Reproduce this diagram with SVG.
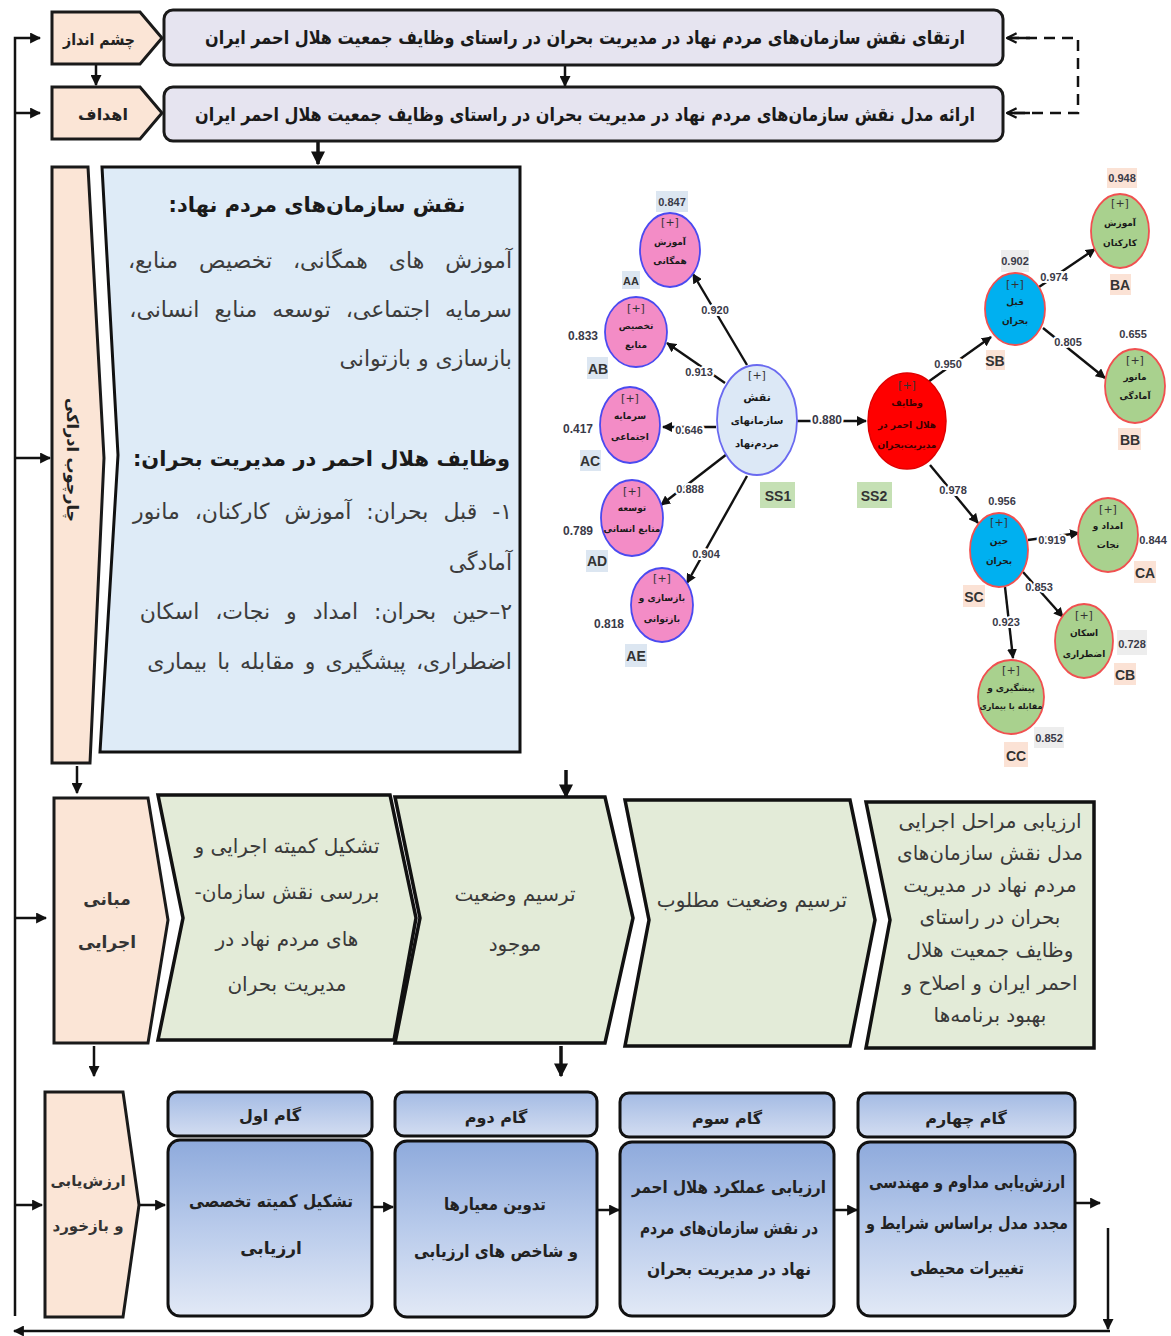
<svg xmlns="http://www.w3.org/2000/svg" width="1171" height="1336" viewBox="0 0 1171 1336">
<defs>
<style>
.ar{font-family:"DejaVu Sans",sans-serif;direction:rtl;}
.b{font-weight:bold;}
.lav{fill:#e6e4f0;stroke:#1a1a1a;stroke-width:3;}
.peach{fill:#fbe5d6;stroke:#1a1a1a;stroke-width:3;}
.grn{fill:#e3ebd8;stroke:#111;stroke-width:3.5;stroke-linejoin:miter;}
.panel{fill:#deebf7;stroke:#111;stroke-width:3;}
.hdr{fill:url(#gh);stroke:#111;stroke-width:3;}
.body{fill:url(#gb);stroke:#111;stroke-width:3;}
.ln{stroke:#111;stroke-width:2.5;fill:none;}
.thk{stroke:#111;stroke-width:3.5;fill:none;}
.ml{stroke:#111;stroke-width:2.4;fill:none;}
.num{font-family:"Liberation Sans",sans-serif;font-weight:bold;font-size:11px;fill:#3a3a48;text-anchor:middle;}
.halo{stroke:#fff;stroke-width:4;paint-order:stroke;}
.lab{font-family:"Liberation Sans",sans-serif;font-weight:bold;font-size:14px;fill:#333;text-anchor:middle;}
.nt{font-family:"DejaVu Sans",sans-serif;font-weight:bold;font-size:9px;fill:#1a1a1a;text-anchor:middle;direction:rtl;}
.pl{font-family:"DejaVu Sans",sans-serif;font-size:11px;fill:#333;text-anchor:middle;}
.pink{fill:#f38cc6;stroke:#4a4af0;stroke-width:1.8;}
.gnode{fill:#a9d18e;stroke:#f05050;stroke-width:1.8;}
.bnode{fill:#00b0f0;stroke:#f05050;stroke-width:1.8;}
.lb{fill:#dce6f1;}
.lp{fill:#fbe2d5;}
.lg{fill:#c5e0b4;}
.lgr{fill:#ededed;}
.pt{font-size:22px;fill:#3c3c3c;}
.gt{font-size:20px;fill:#3a3a3a;}
.st{font-size:17px;fill:#222;font-weight:bold;text-anchor:middle;}
</style>
<linearGradient id="gh" x1="0" y1="0" x2="0" y2="1"><stop offset="0" stop-color="#a4bbe4"/><stop offset="1" stop-color="#d3ddf1"/></linearGradient>
<linearGradient id="gb" x1="0" y1="0" x2="0" y2="1"><stop offset="0" stop-color="#8eaadc"/><stop offset="0.5" stop-color="#b9cbeb"/><stop offset="1" stop-color="#e2e9f6"/></linearGradient>
<marker id="ah" viewBox="0 0 10 10" refX="9" refY="5" markerWidth="11" markerHeight="11" markerUnits="userSpaceOnUse" orient="auto"><path d="M0,0 L10,5 L0,10 z" fill="#111"/></marker>
<marker id="ahb" viewBox="0 0 10 10" refX="9" refY="5" markerWidth="14" markerHeight="14" markerUnits="userSpaceOnUse" orient="auto"><path d="M0,0 L10,5 L0,10 z" fill="#111"/></marker>
<marker id="ahs" viewBox="0 0 10 10" refX="9" refY="5" markerWidth="10" markerHeight="10" markerUnits="userSpaceOnUse" orient="auto"><path d="M0,0 L10,5 L0,10 z" fill="#111"/></marker>
<marker id="aho" viewBox="0 0 10 10" refX="9" refY="5" markerWidth="12" markerHeight="12" markerUnits="userSpaceOnUse" orient="auto"><path d="M1,1 L9,5 L1,9" fill="none" stroke="#111" stroke-width="2"/></marker>
</defs>
<rect width="1171" height="1336" fill="#fff"/>

<!-- connectors -->
<g id="connectors">
<polyline class="ln" points="15,1316 15,38 40,38" marker-end="url(#ah)"/>
<line class="ln" x1="15" y1="113" x2="40" y2="113" marker-end="url(#ah)"/>
<line class="ln" x1="15" y1="458" x2="50" y2="458" marker-end="url(#ah)"/>
<line class="ln" x1="15" y1="918" x2="46" y2="918" marker-end="url(#ah)"/>
<line class="ln" x1="15" y1="1205" x2="42" y2="1205" marker-end="url(#ah)"/>
<line class="ln" x1="96" y1="64" x2="96" y2="85" marker-end="url(#ah)"/>
<line class="ln" x1="565" y1="65" x2="565" y2="86" marker-end="url(#ah)"/>
<line class="thk" x1="318" y1="141" x2="318" y2="164" marker-end="url(#ahb)"/>
<polyline fill="none" stroke="#111" stroke-width="2.5" stroke-dasharray="11,7" points="1008,38 1078,38 1078,113 1008,113"/>
<line class="ln" x1="1030" y1="38" x2="1007" y2="38" marker-end="url(#aho)"/>
<line class="ln" x1="1030" y1="113" x2="1007" y2="113" marker-end="url(#aho)"/>
<line class="ln" x1="77" y1="766" x2="77" y2="793" marker-end="url(#ah)"/>
<line class="thk" x1="566" y1="770" x2="566" y2="797" marker-end="url(#ahb)"/>
<line class="ln" x1="94" y1="1046" x2="94" y2="1076" marker-end="url(#ah)"/>
<line class="thk" x1="561" y1="1046" x2="561" y2="1076" marker-end="url(#ahb)"/>
<line class="ln" x1="139" y1="1205" x2="165" y2="1205" marker-end="url(#ah)"/>
<line class="ln" x1="372" y1="1207" x2="393" y2="1207" marker-end="url(#ah)"/>
<line class="ln" x1="597" y1="1210" x2="619" y2="1210" marker-end="url(#ah)"/>
<line class="ln" x1="834" y1="1210" x2="857" y2="1210" marker-end="url(#ah)"/>
<line class="ln" x1="1075" y1="1203" x2="1100" y2="1203" marker-end="url(#ah)"/>
<line class="ln" x1="1108" y1="1228" x2="1108" y2="1329" marker-end="url(#ah)"/>
<line class="ln" x1="1110" y1="1331" x2="14" y2="1331" marker-end="url(#ah)"/>
<!-- model paths -->
<line class="ml" x1="747" y1="365" x2="693" y2="274" marker-end="url(#ahs)"/>
<line class="ml" x1="725" y1="383" x2="667" y2="343" marker-end="url(#ahs)"/>
<line class="ml" x1="716" y1="427" x2="663" y2="427" marker-end="url(#ahs)"/>
<line class="ml" x1="727" y1="454" x2="661" y2="505" marker-end="url(#ahs)"/>
<line class="ml" x1="747" y1="476" x2="687" y2="583" marker-end="url(#ahs)"/>
<line class="ml" x1="797" y1="421" x2="866" y2="421" marker-end="url(#ahs)"/>
<line class="ml" x1="928" y1="382" x2="991" y2="337" marker-end="url(#ahs)"/>
<line class="ml" x1="1039" y1="287" x2="1095" y2="249" marker-end="url(#ahs)"/>
<line class="ml" x1="1043" y1="328" x2="1105" y2="378" marker-end="url(#ahs)"/>
<line class="ml" x1="930" y1="465" x2="978" y2="523" marker-end="url(#ahs)"/>
<line class="ml" x1="1028" y1="540" x2="1079" y2="533" marker-end="url(#ahs)"/>
<line class="ml" x1="1023" y1="572" x2="1063" y2="617" marker-end="url(#ahs)"/>
<line class="ml" x1="1005" y1="587" x2="1013" y2="658" marker-end="url(#ahs)"/>
<text class="num halo" x="715" y="314">0.920</text>
<text class="num halo" x="699" y="376">0.913</text>
<text class="num halo" x="689" y="434">0.646</text>
<text class="num halo" x="690" y="493">0.888</text>
<text class="num halo" x="706" y="558">0.904</text>
<text class="num halo" x="827" y="424" style="font-size:12px">0.880</text>
<text class="num halo" x="948" y="368">0.950</text>
<text class="num halo" x="1054" y="281">0.974</text>
<text class="num halo" x="1068" y="346">0.805</text>
<text class="num halo" x="953" y="494">0.978</text>
<text class="num halo" x="1052" y="544">0.919</text>
<text class="num halo" x="1039" y="591">0.853</text>
<text class="num halo" x="1006" y="626">0.923</text>
</g>

<!-- top rows -->
<g id="vision">
<path class="peach" d="M52,12 L140,12 L162,38 L140,64 L52,64 Z"/>
<text class="ar b" x="99" y="45" font-size="16" text-anchor="middle" fill="#222" textLength="72" lengthAdjust="spacingAndGlyphs">چشم انداز</text>
</g>
<g id="vision-text">
<rect class="lav" x="164" y="10" width="839" height="55" rx="9"/>
<text class="ar b" x="585" y="44" font-size="19" text-anchor="middle" fill="#1a1a1a" textLength="760" lengthAdjust="spacingAndGlyphs">ارتقای نقش سازمان‌های مردم نهاد در مدیریت بحران در راستای وظایف جمعیت هلال احمر ایران</text>
</g>
<g id="goals">
<path class="peach" d="M52,87 L140,87 L162,113 L140,139 L52,139 Z"/>
<text class="ar b" x="103" y="120" font-size="16" text-anchor="middle" fill="#222">اهداف</text>
</g>
<g id="goals-text">
<rect class="lav" x="164" y="87" width="839" height="54" rx="9"/>
<text class="ar b" x="585" y="121" font-size="19" text-anchor="middle" fill="#1a1a1a" textLength="780" lengthAdjust="spacingAndGlyphs">ارائه مدل نقش سازمان‌های مردم نهاد در مدیریت بحران در راستای وظایف جمعیت هلال احمر ایران</text>
</g>

<!-- conceptual framework -->
<g id="framework">
<path class="peach" d="M52,167 L88,167 L104,458 L90,763 L52,763 Z"/>
<text class="ar b" transform="translate(73,460) rotate(90)" x="0" y="6" font-size="16" text-anchor="middle" fill="#222">چارچوب ادراکی</text>
</g>
<g id="panel">
<path class="panel" d="M102,167 L520,167 L520,752 L100,752 L118,455 Z"/>
<text class="ar b" x="317" y="212" font-size="21" text-anchor="middle" fill="#1a1a1a">نقش سازمان‌های مردم نهاد:</text>
<text class="ar pt" x="512" y="268" text-anchor="start" word-spacing="14">آموزش های همگانی، تخصیص منابع،</text>
<text class="ar pt" x="512" y="317" text-anchor="start" word-spacing="8">سرمایه اجتماعی، توسعه منابع انسانی،</text>
<text class="ar pt" x="512" y="366" text-anchor="start">بازسازی و بازتوانی</text>
<text class="ar b" x="510" y="466" font-size="21" text-anchor="start" fill="#1a1a1a">وظایف هلال احمر در مدیریت بحران:</text>
<text class="ar pt" x="512" y="519" text-anchor="start" word-spacing="8">۱- قبل بحران: آموزش کارکنان، مانور</text>
<text class="ar pt" x="512" y="570" text-anchor="start">آمادگی</text>
<text class="ar pt" x="512" y="619" text-anchor="start" word-spacing="9">۲–حین بحران: امداد و نجات، اسکان</text>
<text class="ar pt" x="512" y="669" text-anchor="start" word-spacing="3">اضطراری، پیشگیری و مقابله با بیماری</text>
</g>

<!-- PLS model nodes -->
<g id="SS1">
<ellipse cx="757" cy="420" rx="40" ry="55" fill="#dce8f6" stroke="#6a6af0" stroke-width="1.8"/>
<text class="pl" x="757" y="379">[+]</text>
<text class="nt" x="757" y="401" style="font-size:11px">نقش</text>
<text class="nt" x="757" y="424" style="font-size:10px">سازمانهای</text>
<text class="nt" x="757" y="447" style="font-size:10px">مردم‌نهاد</text>
<rect class="lg" x="760" y="482" width="35" height="26"/>
<text class="lab" x="778" y="501">SS1</text>
</g>
<g id="AA">
<ellipse class="pink" cx="670" cy="250" rx="30" ry="37"/>
<text class="pl" x="670" y="226">[+]</text>
<text class="nt" x="670" y="245">آموزش</text>
<text class="nt" x="670" y="264">همگانی</text>
<rect class="lb" x="656" y="191" width="32" height="21"/>
<text class="num" x="672" y="206">0.847</text>
<rect class="lb" x="622" y="271" width="18" height="18"/>
<text class="lab" x="631" y="285" style="font-size:11px">AA</text>
</g>
<g id="AB">
<ellipse class="pink" cx="636" cy="332" rx="31" ry="35"/>
<text class="pl" x="636" y="312">[+]</text>
<text class="nt" x="636" y="329">تخصیص</text>
<text class="nt" x="636" y="348">منابع</text>
<text class="num" x="583" y="340" style="font-size:12px">0.833</text>
<rect class="lb" x="587" y="357" width="21" height="22"/>
<text class="lab" x="598" y="374">AB</text>
</g>
<g id="AC">
<ellipse class="pink" cx="630" cy="425" rx="30" ry="38"/>
<text class="pl" x="630" y="402">[+]</text>
<text class="nt" x="630" y="419">سرمایه</text>
<text class="nt" x="630" y="440">اجتماعی</text>
<text class="num" x="578" y="433" style="font-size:12px">0.417</text>
<rect class="lb" x="580" y="450" width="21" height="21"/>
<text class="lab" x="590" y="466">AC</text>
</g>
<g id="AD">
<ellipse class="pink" cx="632" cy="518" rx="31" ry="38"/>
<text class="pl" x="632" y="495">[+]</text>
<text class="nt" x="632" y="511">توسعه</text>
<text class="nt" x="632" y="532">منابع انسانی</text>
<text class="num" x="578" y="535" style="font-size:12px">0.789</text>
<rect class="lb" x="586" y="550" width="22" height="22"/>
<text class="lab" x="597" y="566">AD</text>
</g>
<g id="AE">
<ellipse class="pink" cx="662" cy="605" rx="31" ry="37"/>
<text class="pl" x="662" y="582">[+]</text>
<text class="nt" x="662" y="601">بازسازی و</text>
<text class="nt" x="662" y="622">بازتوانی</text>
<text class="num" x="609" y="628" style="font-size:12px">0.818</text>
<rect class="lb" x="625" y="644" width="22" height="23"/>
<text class="lab" x="636" y="661">AE</text>
</g>
<g id="SS2">
<ellipse cx="907" cy="421" rx="39" ry="48" fill="#ff0000" stroke="#e00000" stroke-width="1.5"/>
<text class="pl" x="907" y="389" fill="#400">[+]</text>
<text class="nt" x="907" y="406" style="fill:#3a0000">وظایف</text>
<text class="nt" x="907" y="428" style="fill:#3a0000">هلال احمر در</text>
<text class="nt" x="907" y="448" style="fill:#3a0000">مدیریت‌بحران</text>
<rect class="lg" x="857" y="482" width="35" height="26"/>
<text class="lab" x="874" y="501">SS2</text>
</g>
<g id="SB">
<ellipse class="bnode" cx="1015" cy="309" rx="30" ry="36"/>
<text class="pl" x="1015" y="288">[+]</text>
<text class="nt" x="1015" y="305">قبل</text>
<text class="nt" x="1015" y="324">بحران</text>
<rect class="lgr" x="1001" y="250" width="28" height="22"/>
<text class="num" x="1015" y="265">0.902</text>
<rect class="lp" x="986" y="350" width="19" height="20"/>
<text class="lab" x="995" y="366">SB</text>
</g>
<g id="BA">
<ellipse class="gnode" cx="1120" cy="231" rx="29" ry="37"/>
<text class="pl" x="1120" y="207">[+]</text>
<text class="nt" x="1120" y="226">آموزش</text>
<text class="nt" x="1120" y="246">کارکنان</text>
<rect class="lp" x="1107" y="168" width="30" height="20"/>
<text class="num" x="1122" y="182">0.948</text>
<rect class="lp" x="1110" y="274" width="21" height="21"/>
<text class="lab" x="1120" y="290">BA</text>
</g>
<g id="BB">
<ellipse class="gnode" cx="1135" cy="386" rx="30" ry="37"/>
<text class="pl" x="1135" y="364">[+]</text>
<text class="nt" x="1135" y="380">مانور</text>
<text class="nt" x="1135" y="399">آمادگی</text>
<text class="num" x="1133" y="338">0.655</text>
<rect class="lp" x="1118" y="428" width="23" height="22"/>
<text class="lab" x="1130" y="445">BB</text>
</g>
<g id="SC">
<ellipse class="bnode" cx="999" cy="550" rx="29" ry="37"/>
<text class="pl" x="999" y="526">[+]</text>
<text class="nt" x="999" y="544">حین</text>
<text class="nt" x="999" y="564">بحران</text>
<text class="num" x="1002" y="505">0.956</text>
<rect class="lp" x="963" y="585" width="22" height="22"/>
<text class="lab" x="974" y="602">SC</text>
</g>
<g id="CA">
<ellipse class="gnode" cx="1108" cy="535" rx="30" ry="37"/>
<text class="pl" x="1108" y="513">[+]</text>
<text class="nt" x="1108" y="529">امداد و</text>
<text class="nt" x="1108" y="548">نجات</text>
<text class="num" x="1153" y="544">0.844</text>
<rect class="lp" x="1134" y="561" width="22" height="22"/>
<text class="lab" x="1145" y="578">CA</text>
</g>
<g id="CB">
<ellipse class="gnode" cx="1084" cy="641" rx="29" ry="37"/>
<text class="pl" x="1084" y="619">[+]</text>
<text class="nt" x="1084" y="636">اسکان</text>
<text class="nt" x="1084" y="657">اضطراری</text>
<rect class="lgr" x="1117" y="630" width="30" height="25"/>
<text class="num" x="1132" y="648">0.728</text>
<rect class="lp" x="1114" y="663" width="22" height="22"/>
<text class="lab" x="1125" y="680">CB</text>
</g>
<g id="CC">
<ellipse class="gnode" cx="1011" cy="697" rx="33" ry="37"/>
<text class="pl" x="1011" y="674">[+]</text>
<text class="nt" x="1011" y="691">پیشگیری و</text>
<text class="nt" x="1011" y="709" style="font-size:8px">مقابله با بیماری</text>
<rect class="lgr" x="1034" y="727" width="30" height="21"/>
<text class="num" x="1049" y="742">0.852</text>
<rect class="lp" x="1004" y="742" width="24" height="25"/>
<text class="lab" x="1016" y="761">CC</text>
</g>

<!-- executive row -->
<g id="exec-basis">
<path class="peach" d="M54,798 L148,798 L168,920 L148,1043 L54,1043 Z"/>
<text class="ar b" x="107" y="905" font-size="17" text-anchor="middle" fill="#333">مبانی</text>
<text class="ar b" x="107" y="948" font-size="17" text-anchor="middle" fill="#333">اجرایی</text>
</g>
<g id="step-committee">
<path class="grn" d="M158,795 L390,795 L416,918 L394,1040 L158,1040 L183,918 Z"/>
<text class="ar gt" x="287" y="853" text-anchor="middle">تشکیل کمیته اجرایی و</text>
<text class="ar gt" x="287" y="899" text-anchor="middle">بررسی نقش سازمان-</text>
<text class="ar gt" x="287" y="946" text-anchor="middle">های مردم نهاد در</text>
<text class="ar gt" x="287" y="991" text-anchor="middle">مدیریت بحران</text>
</g>
<g id="step-current">
<path class="grn" d="M395,797 L605,797 L633,918 L605,1043 L395,1043 L420,918 Z"/>
<text class="ar gt" x="515" y="901" text-anchor="middle">ترسیم وضعیت</text>
<text class="ar gt" x="515" y="951" text-anchor="middle">موجود</text>
</g>
<g id="step-desired">
<path class="grn" d="M625,800 L850,800 L875,920 L850,1046 L625,1046 L649,920 Z"/>
<text class="ar gt" x="752" y="907" text-anchor="middle">ترسیم وضعیت مطلوب</text>
</g>
<g id="step-evaluate">
<path class="grn" d="M866,802 L1094,802 L1094,1048 L866,1048 L890,920 Z"/>
<text class="ar gt" x="990" y="828" text-anchor="middle" font-size="19">ارزیابی مراحل اجرایی</text>
<text class="ar gt" x="990" y="860" text-anchor="middle" font-size="19">مدل نقش سازمان‌های</text>
<text class="ar gt" x="990" y="892" text-anchor="middle" font-size="19">مردم نهاد در مدیریت</text>
<text class="ar gt" x="990" y="924" text-anchor="middle" font-size="19">بحران در راستای</text>
<text class="ar gt" x="990" y="957" text-anchor="middle" font-size="19">وظایف جمعیت هلال</text>
<text class="ar gt" x="990" y="990" text-anchor="middle" font-size="19">احمر ایران و اصلاح و</text>
<text class="ar gt" x="990" y="1022" text-anchor="middle" font-size="19">بهبود برنامه‌ها</text>
</g>

<!-- evaluation row -->
<g id="evaluation">
<path class="peach" d="M45,1092 L123,1092 L139,1205 L123,1317 L45,1317 Z"/>
<text class="ar b" x="88" y="1186" font-size="15" text-anchor="middle" fill="#333">ارزش‌یابی</text>
<text class="ar b" x="88" y="1231" font-size="15" text-anchor="middle" fill="#333">و بازخورد</text>
</g>
<g id="step1">
<rect class="hdr" x="168" y="1092" width="204" height="44" rx="9"/>
<text class="ar st" x="270" y="1121" font-size="16" style="font-size:16px">گام اول</text>
<rect class="body" x="168" y="1140" width="204" height="176" rx="12"/>
<text class="ar st" x="271" y="1207" textLength="164" lengthAdjust="spacingAndGlyphs">تشکیل کمیته تخصصی</text>
<text class="ar st" x="271" y="1254">ارزیابی</text>
</g>
<g id="step2">
<rect class="hdr" x="395" y="1092" width="202" height="44" rx="9"/>
<text class="ar st" x="496" y="1123" style="font-size:16px">گام دوم</text>
<rect class="body" x="395" y="1141" width="202" height="176" rx="12"/>
<text class="ar st" x="495" y="1210" textLength="102" lengthAdjust="spacingAndGlyphs">تدوین معیارها</text>
<text class="ar st" x="496" y="1257" textLength="164" lengthAdjust="spacingAndGlyphs">و شاخص های ارزیابی</text>
</g>
<g id="step3">
<rect class="hdr" x="620" y="1093" width="214" height="44" rx="9"/>
<text class="ar st" x="727" y="1124" style="font-size:16px">گام سوم</text>
<rect class="body" x="620" y="1142" width="214" height="174" rx="12"/>
<text class="ar st" x="729" y="1193" textLength="194" lengthAdjust="spacingAndGlyphs">ارزیابی عملکرد هلال احمر</text>
<text class="ar st" x="729" y="1234" textLength="178" lengthAdjust="spacingAndGlyphs">در نقش سازمان‌های مردم</text>
<text class="ar st" x="729" y="1275" textLength="164" lengthAdjust="spacingAndGlyphs">نهاد در مدیریت بحران</text>
</g>
<g id="step4">
<rect class="hdr" x="858" y="1093" width="217" height="44" rx="9"/>
<text class="ar st" x="966" y="1124" style="font-size:16px">گام چهارم</text>
<rect class="body" x="858" y="1142" width="217" height="174" rx="12"/>
<text class="ar st" x="967" y="1188" textLength="196" lengthAdjust="spacingAndGlyphs">ارزش‌یابی مداوم و مهندسی</text>
<text class="ar st" x="967" y="1229" textLength="202" lengthAdjust="spacingAndGlyphs">مجدد مدل براساس شرایط و</text>
<text class="ar st" x="967" y="1274" textLength="114" lengthAdjust="spacingAndGlyphs">تغییرات محیطی</text>
</g>
</svg>
